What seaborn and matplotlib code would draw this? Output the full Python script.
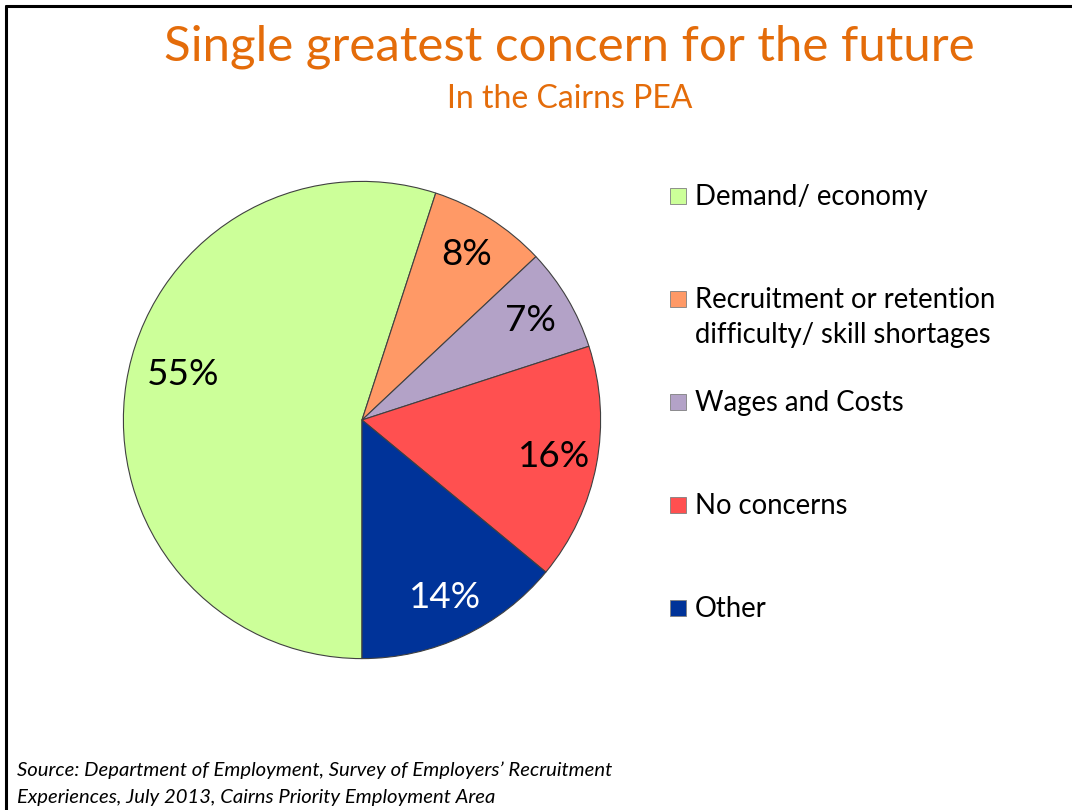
import matplotlib
matplotlib.use("Agg")
import matplotlib.pyplot as plt
from matplotlib.patches import Rectangle
from matplotlib.lines import Line2D
import seaborn as sns

# dados do grafico
categorias = ["Demand/ economy",
              "Recruitment or retention\ndifficulty/ skill shortages",
              "Wages and Costs",
              "No concerns",
              "Other"]
valores = [55, 8, 7, 16, 14]
rotulos = ["55%", "8%", "7%", "16%", "14%"]
cores = ["#CCFF99", "#FF9966", "#B3A2C7", "#FF5050", "#003399"]
cor_rotulo = ["black", "black", "black", "black", "white"]

titulo = "Single greatest concern for the future"
subtitulo = "In the Cairns PEA"
fonte = ("Source: Department of Employment, Survey of Employers\u2019 Recruitment\n"
         "Experiences, July 2013, Cairns Priority Employment Area")

sns.set_theme(style="white")
plt.rcParams['font.family'] = ['Lato', 'DejaVu Sans']

W, H = 1072, 810
fig = plt.figure(figsize=(W / 100, H / 100), dpi=100)
fig.patch.set_facecolor("white")

# pie: centro (362, 420), raio 241 px
cx, cy, r = 362, 420, 241
ax = fig.add_axes([(cx - r) / W, (H - cy - r) / H, 2 * r / W, 2 * r / H])
paleta = sns.color_palette(cores)
wedges, textos = ax.pie(valores, colors=paleta, startangle=270, counterclock=False,
                        labels=rotulos, labeldistance=0.82,
                        wedgeprops=dict(edgecolor="#404040", linewidth=0.8),
                        textprops=dict(fontsize=26.5))
for t, c in zip(textos, cor_rotulo):
    t.set_color(c)
    t.set_ha("center")
    t.set_va("center")
textos[0].set_position((-0.75, 0.19))
ax.set_xlim(-1.01, 1.01)
ax.set_ylim(-1.01, 1.01)
ax.set_aspect("equal")
ax.axis("off")

# titulo
fig.text(569 / W, 1 - 47 / H, titulo, ha="center", va="center",
         fontsize=35.5, color="#E46C0A")
fig.text(570 / W, 1 - 99 / H, subtitulo, ha="center", va="center",
         fontsize=23, color="#E46C0A")

# legenda manual
y0, passo = 196, 103
for i, (cat, cor) in enumerate(zip(categorias, cores)):
    y = y0 + i * passo
    fig.patches.append(Rectangle((670 / W, 1 - (y + 8) / H), 16 / W, 16 / H,
                                 transform=fig.transFigure, facecolor=cor,
                                 edgecolor="#7F7F7F", linewidth=0.6))
    fig.text(695 / W, 1 - (y - 12) / H, cat, ha="left", va="top",
             fontsize=19.8, color="black", linespacing=1.45)

# fonte
fig.text(17 / W, 1 - 761 / H, fonte, ha="left", va="top", fontsize=14.6,
         style="italic", color="black", linespacing=1.75)

# moldura (topo e esquerda)
fig.add_artist(Line2D([6 / W, 1], [1 - 6 / H, 1 - 6 / H], transform=fig.transFigure,
                      color="black", linewidth=2.2))
fig.add_artist(Line2D([6 / W, 6 / W], [0, 1 - 6 / H], transform=fig.transFigure,
                      color="black", linewidth=2.2))

fig.savefig("out.png", dpi=100)
